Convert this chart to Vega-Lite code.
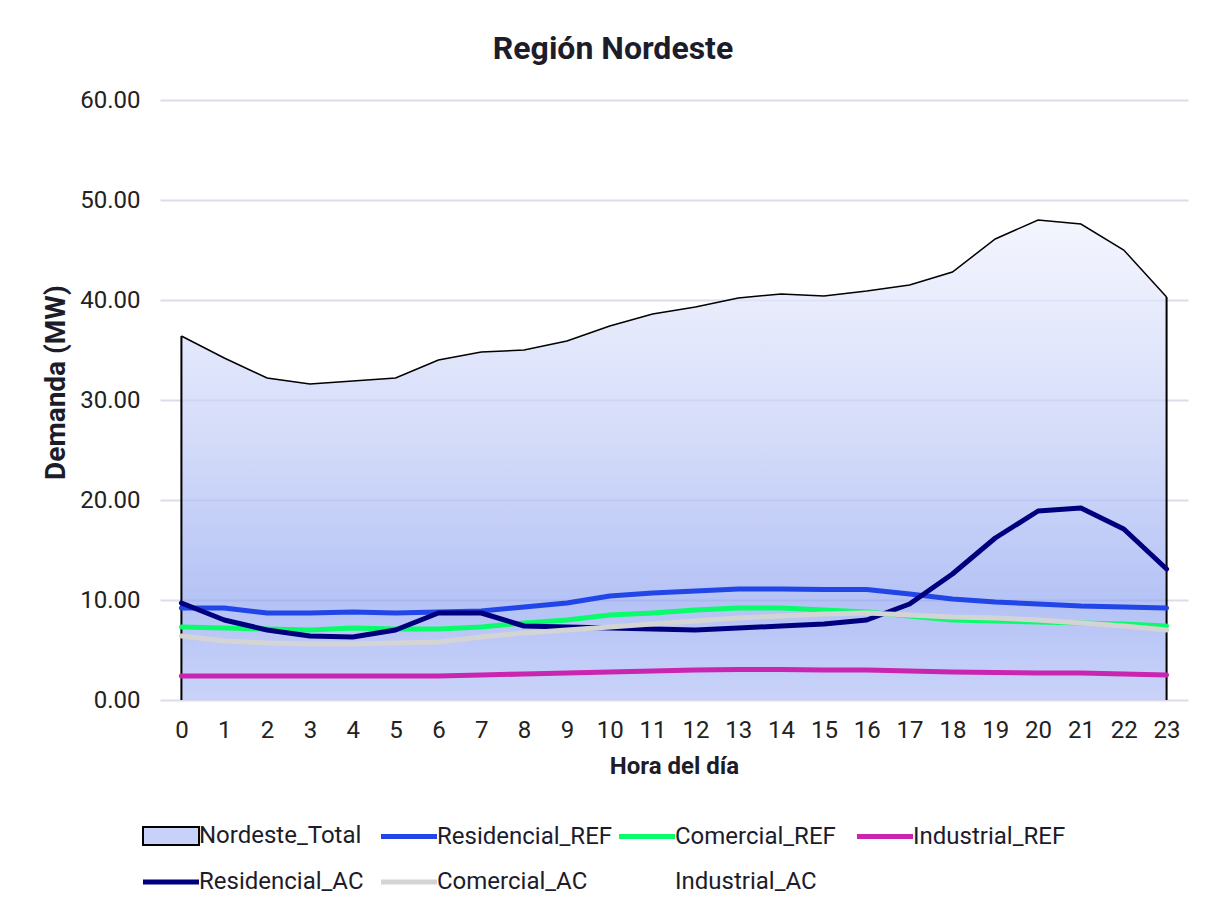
{
  "$schema": "https://vega.github.io/schema/vega-lite/v6.json",
  "width": 1028,
  "height": 600,
  "autosize": {"type": "none"},
  "padding": {"left": 160, "top": 100, "right": 23, "bottom": 211},
  "background": "white",
  "config": {
    "view": {"stroke": null},
    "font": "Roboto"
  },
  "title": {
    "text": "Región Nordeste",
    "font": "Roboto",
    "fontSize": 32,
    "fontWeight": "bold",
    "color": "#1c1c2b",
    "anchor": "middle",
    "dx": -61,
    "offset": 22
  },
  "data": {
    "values": [
      {"hora": 0, "Nordeste_Total": 36.4, "Residencial_REF": 9.2, "Comercial_REF": 7.3, "Industrial_REF": 2.4, "Residencial_AC": 9.7, "Comercial_AC": 6.4},
      {"hora": 1, "Nordeste_Total": 34.2, "Residencial_REF": 9.2, "Comercial_REF": 7.2, "Industrial_REF": 2.4, "Residencial_AC": 8.0, "Comercial_AC": 5.9},
      {"hora": 2, "Nordeste_Total": 32.2, "Residencial_REF": 8.7, "Comercial_REF": 7.1, "Industrial_REF": 2.4, "Residencial_AC": 7.0, "Comercial_AC": 5.7},
      {"hora": 3, "Nordeste_Total": 31.6, "Residencial_REF": 8.7, "Comercial_REF": 7.0, "Industrial_REF": 2.4, "Residencial_AC": 6.4, "Comercial_AC": 5.6},
      {"hora": 4, "Nordeste_Total": 31.9, "Residencial_REF": 8.8, "Comercial_REF": 7.2, "Industrial_REF": 2.4, "Residencial_AC": 6.3, "Comercial_AC": 5.6},
      {"hora": 5, "Nordeste_Total": 32.2, "Residencial_REF": 8.7, "Comercial_REF": 7.1, "Industrial_REF": 2.4, "Residencial_AC": 7.0, "Comercial_AC": 5.7},
      {"hora": 6, "Nordeste_Total": 34.0, "Residencial_REF": 8.8, "Comercial_REF": 7.1, "Industrial_REF": 2.4, "Residencial_AC": 8.7, "Comercial_AC": 5.8},
      {"hora": 7, "Nordeste_Total": 34.8, "Residencial_REF": 8.9, "Comercial_REF": 7.3, "Industrial_REF": 2.5, "Residencial_AC": 8.7, "Comercial_AC": 6.3},
      {"hora": 8, "Nordeste_Total": 35.0, "Residencial_REF": 9.3, "Comercial_REF": 7.7, "Industrial_REF": 2.6, "Residencial_AC": 7.4, "Comercial_AC": 6.7},
      {"hora": 9, "Nordeste_Total": 35.9, "Residencial_REF": 9.7, "Comercial_REF": 8.0, "Industrial_REF": 2.7, "Residencial_AC": 7.3, "Comercial_AC": 7.0},
      {"hora": 10, "Nordeste_Total": 37.4, "Residencial_REF": 10.4, "Comercial_REF": 8.5, "Industrial_REF": 2.8, "Residencial_AC": 7.2, "Comercial_AC": 7.3},
      {"hora": 11, "Nordeste_Total": 38.6, "Residencial_REF": 10.7, "Comercial_REF": 8.7, "Industrial_REF": 2.9, "Residencial_AC": 7.1, "Comercial_AC": 7.6},
      {"hora": 12, "Nordeste_Total": 39.3, "Residencial_REF": 10.9, "Comercial_REF": 9.0, "Industrial_REF": 3.0, "Residencial_AC": 7.0, "Comercial_AC": 7.9},
      {"hora": 13, "Nordeste_Total": 40.2, "Residencial_REF": 11.1, "Comercial_REF": 9.2, "Industrial_REF": 3.05, "Residencial_AC": 7.2, "Comercial_AC": 8.2},
      {"hora": 14, "Nordeste_Total": 40.6, "Residencial_REF": 11.1, "Comercial_REF": 9.2, "Industrial_REF": 3.05, "Residencial_AC": 7.4, "Comercial_AC": 8.4},
      {"hora": 15, "Nordeste_Total": 40.4, "Residencial_REF": 11.05, "Comercial_REF": 9.0, "Industrial_REF": 3.0, "Residencial_AC": 7.6, "Comercial_AC": 8.6},
      {"hora": 16, "Nordeste_Total": 40.9, "Residencial_REF": 11.05, "Comercial_REF": 8.8, "Industrial_REF": 3.0, "Residencial_AC": 8.0, "Comercial_AC": 8.7},
      {"hora": 17, "Nordeste_Total": 41.5, "Residencial_REF": 10.6, "Comercial_REF": 8.4, "Industrial_REF": 2.9, "Residencial_AC": 9.6, "Comercial_AC": 8.5},
      {"hora": 18, "Nordeste_Total": 42.8, "Residencial_REF": 10.1, "Comercial_REF": 8.0, "Industrial_REF": 2.8, "Residencial_AC": 12.6, "Comercial_AC": 8.3},
      {"hora": 19, "Nordeste_Total": 46.1, "Residencial_REF": 9.8, "Comercial_REF": 7.9, "Industrial_REF": 2.75, "Residencial_AC": 16.2, "Comercial_AC": 8.2},
      {"hora": 20, "Nordeste_Total": 48.0, "Residencial_REF": 9.6, "Comercial_REF": 7.8, "Industrial_REF": 2.7, "Residencial_AC": 18.9, "Comercial_AC": 8.0},
      {"hora": 21, "Nordeste_Total": 47.6, "Residencial_REF": 9.4, "Comercial_REF": 7.7, "Industrial_REF": 2.7, "Residencial_AC": 19.2, "Comercial_AC": 7.7},
      {"hora": 22, "Nordeste_Total": 45.0, "Residencial_REF": 9.3, "Comercial_REF": 7.6, "Industrial_REF": 2.6, "Residencial_AC": 17.1, "Comercial_AC": 7.4},
      {"hora": 23, "Nordeste_Total": 40.3, "Residencial_REF": 9.2, "Comercial_REF": 7.4, "Industrial_REF": 2.5, "Residencial_AC": 13.1, "Comercial_AC": 7.0}
    ]
  },
  "transform": [
    {"fold": ["Nordeste_Total", "Residencial_REF", "Comercial_REF", "Industrial_REF", "Residencial_AC", "Comercial_AC"], "as": ["serie", "valor"]}
  ],
  "encoding": {
    "x": {
      "field": "hora",
      "type": "ordinal",
      "scale": {"type": "point", "padding": 0.5},
      "axis": {
        "title": "Hora del día",
        "labelAngle": 0,
        "labelFontSize": 24,
        "labelFont": "Roboto",
        "labelColor": "#222222",
        "labelPadding": 18,
        "ticks": false,
        "domain": false,
        "titleFontSize": 24,
        "titleFont": "Roboto",
        "titleFontWeight": "bold",
        "titleColor": "#1c1c2b",
        "titlePadding": 12
      }
    },
    "y": {
      "field": "valor",
      "type": "quantitative",
      "scale": {"domain": [0, 60], "nice": false},
      "axis": {
        "title": "Demanda (MW)",
        "values": [0, 10, 20, 30, 40, 50, 60],
        "format": ".2f",
        "labelFontSize": 24,
        "labelFont": "Roboto",
        "labelColor": "#222222",
        "labelPadding": 20,
        "ticks": false,
        "domain": false,
        "grid": true,
        "gridColor": "#dcdcec",
        "gridWidth": 2,
        "titleFontSize": 28,
        "titleFont": "Roboto",
        "titleFontWeight": "bold",
        "titleColor": "#1c1c2b",
        "titlePadding": 9,
        "titleY": 282
      }
    }
  },
  "layer": [
    {
      "transform": [{"filter": "datum.serie === 'Nordeste_Total'"}],
      "mark": {
        "type": "area",
        "fill": {
          "gradient": "linear",
          "x1": 0, "y1": 0, "x2": 0, "y2": 1,
          "stops": [
            {"offset": 0, "color": "#eff2fd"},
            {"offset": 0.45, "color": "#c3cdf7"},
            {"offset": 0.8, "color": "#94a8f1"},
            {"offset": 1, "color": "#b3c1f6"}
          ]
        },
        "line": {"color": "#000000", "strokeWidth": 1.5}
      }
    },
    {
      "transform": [{"filter": "datum.serie === 'Nordeste_Total' && (datum.hora === 0 || datum.hora === 23)"}],
      "mark": {"type": "rule", "color": "#000000", "strokeWidth": 2},
      "encoding": {"y2": {"datum": 0}}
    },
    {
      "transform": [{"filter": "datum.serie !== 'Nordeste_Total'"}],
      "mark": {"type": "line", "strokeWidth": 5, "strokeCap": "round", "strokeJoin": "round"},
      "encoding": {
        "color": {
          "field": "serie",
          "type": "nominal",
          "scale": {
            "domain": ["Nordeste_Total", "Residencial_REF", "Comercial_REF", "Industrial_REF", "Residencial_AC", "Comercial_AC", "Industrial_AC"],
            "range": ["#000000", "#2145e6", "#0afc6c", "#c925b0", "#00007f", "#d4d4d4", "transparent"]
          },
          "legend": {
            "title": null,
            "orient": "none",
            "legendX": -1,
            "legendY": 724,
            "direction": "horizontal",
            "columns": 4,
            "gridAlign": "all",
            "columnPadding": -4,
            "rowPadding": 21,
            "symbolType": "stroke",
            "symbolSize": 3136,
            "symbolStrokeWidth": 5,
            "labelFontSize": 24,
            "labelFont": "Roboto",
            "labelColor": "#1c1c2b",
            "labelLimit": 300,
            "labelOffset": 16,
            "encode": {
              "symbols": {
                "update": {
                  "shape": {"signal": "datum.value === 'Nordeste_Total' ? 'M-1,-0.32H1V0.32H-1Z' : 'stroke'"},
                  "fill": {"signal": "datum.value === 'Nordeste_Total' ? '#c8d2f8' : 'transparent'"},
                  "strokeWidth": {"signal": "datum.value === 'Nordeste_Total' ? 2 : 5"}
                }
              }
            }
          }
        }
      }
    }
  ]
}
